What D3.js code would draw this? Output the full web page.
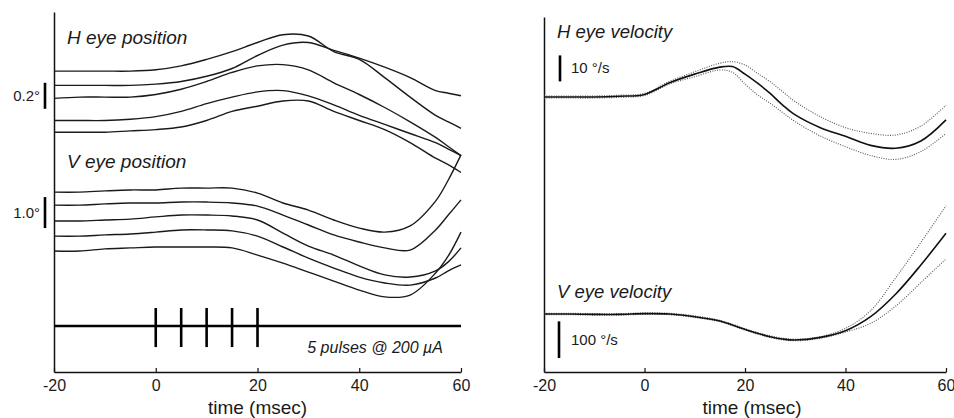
<!DOCTYPE html>
<html><head><meta charset="utf-8">
<script src="https://cdn.jsdelivr.net/npm/d3@7"></script>
<style>
body{margin:0;background:#fff;}
svg text{font-family:"Liberation Sans",Arial,Helvetica,sans-serif;fill:#1a1a1a;}
</style></head><body>
<svg id="chart" width="954" height="418"></svg>
<script>
// ---------- DATA ----------
const posTimes = [-20,-15,-10,-5,0,5,10,15,20,25,30,35,40,45,50,55,57.5,60];
// horizontal eye position traces (deg, arbitrary offset)
const hPos1 = [0.53,0.53,0.53,0.53,0.54,0.57,0.62,0.68,0.75,0.81,0.80,0.68,0.62,0.48,0.33,0.19,0.14,0.09];
const hPos2 = [0.42,0.42,0.42,0.42,0.43,0.45,0.49,0.55,0.65,0.73,0.75,0.69,0.63,0.56,0.48,0.38,0.36,0.34];
const hPos3 = [0.32,0.33,0.33,0.33,0.35,0.39,0.45,0.52,0.57,0.58,0.54,0.44,0.35,0.25,0.14,0.02,-0.05,-0.12];
const hPos4 = [0.15,0.15,0.15,0.16,0.18,0.22,0.28,0.33,0.37,0.38,0.34,0.27,0.19,0.12,0.05,-0.02,-0.07,-0.12];
const hPos5 = [0.06,0.06,0.06,0.07,0.08,0.10,0.15,0.22,0.26,0.30,0.30,0.22,0.15,0.08,-0.02,-0.14,-0.19,-0.25];
// vertical eye position traces (deg, arbitrary offset)
const vPos1 = [3.48,3.48,3.52,3.55,3.55,3.61,3.61,3.61,3.45,3.13,2.90,2.58,2.32,2.19,2.39,3.19,3.87,4.68];
const vPos2 = [3.06,3.06,3.10,3.13,3.13,3.16,3.16,3.13,3.03,2.74,2.42,2.10,1.87,1.68,1.61,2.26,2.74,3.23];
const vPos3 = [2.55,2.55,2.58,2.61,2.68,2.74,2.74,2.71,2.58,2.16,1.74,1.45,1.10,0.81,0.74,0.94,1.23,1.68];
const vPos4 = [2.06,2.06,2.10,2.13,2.19,2.26,2.26,2.23,2.06,1.71,1.35,1.03,0.74,0.55,0.48,0.71,0.94,1.13];
const vPos5 = [1.58,1.58,1.65,1.68,1.71,1.71,1.71,1.68,1.45,1.19,0.90,0.61,0.32,0.10,0.16,0.87,1.42,2.19];
// stimulation pulses (msec)
const pulseTimes = [0,5,10,15,20];

const velTimes = [-20,-15,-10,-5,0,5,10,15,17.5,20,22.5,25,27.5,30,35,40,45,50,55,60];
// horizontal eye velocity (deg/s): mean and bounds
const hVelMean  = [0,0,0,0.3,1.0,5.5,8.8,11.5,11.7,8.8,5.3,1.4,-3.1,-6.9,-11.8,-15.1,-18.6,-19.7,-16.9,-8.8];
const hVelUpper = [0.4,0.4,0.4,0.7,1.4,6.0,9.7,13.0,13.6,12.3,9.1,5.9,2.0,-1.8,-7.6,-11.8,-14.0,-14.6,-11.2,-3.1];
const hVelLower = [-0.4,-0.4,-0.4,-0.1,0.6,5.0,7.8,10.4,9.5,5.0,0.8,-2.4,-6.0,-9.5,-15.0,-19.1,-22.5,-24.0,-21.0,-14.0];
// vertical eye velocity (deg/s): mean and bounds
const vVelMean  = [0,0,-1,-1,1,0,-7.3,-19.1,-30,-41.8,-52.7,-61.8,-68.2,-70.9,-63.6,-45.5,-7.3,54.5,133.6,220];
const vVelUpper = [2,2,1,1,3,2,-5,-17,-28,-40,-50.5,-59.5,-66,-68.5,-61.8,-39,9,99,195,295];
const vVelLower = [-2,-2,-3,-3,-1,-2,-9.5,-21,-32,-44,-55,-64,-70.5,-73,-66.4,-49,-25.5,21.8,85.5,150];

const xTicks = [-20,0,20,40,60];
const hPosBar = [0.24,0.44], vPosBar = [2.32,3.32];
const hVelBar = [6,16], vVelBar = [-120,-20];

// ---------- DRAW ----------
const svg = d3.select("#chart");
const xL = d3.scaleLinear().domain([-20,60]).range([54,461]);
const xR = d3.scaleLinear().domain([-20,60]).range([544,946]);
const yH = d3.scaleLinear().domain([0,1]).range([140,10]);
const yV = d3.scaleLinear().domain([0,1]).range([300,269]);
const yHv = d3.scaleLinear().domain([0,10]).range([97,71]);
const yVv = d3.scaleLinear().domain([0,100]).range([314,277.3]);
const yS = d3.scaleLinear().domain([0,1]).range([326,308]);
const yAxL = d3.scaleLinear().domain([0,1]).range([372,12]);
const yAxR = d3.scaleLinear().domain([0,1]).range([372,17]);

function trace(x, y, times, vals){
  return d3.line().x((d,i)=>x(times[i])).y(d=>y(d)).curve(d3.curveCatmullRom)(vals);
}

// axes
function drawAxes(x, yAx, titleX){
  const gx = svg.append("g").attr("transform","translate(0,372)")
    .call(d3.axisBottom(x).tickValues(xTicks).tickSize(-4).tickSizeOuter(0).tickPadding(8).tickFormat(d=>String(d)));
  gx.select(".domain").attr("stroke","#111").attr("stroke-width",1.5);
  gx.selectAll(".tick line").attr("stroke","#111").attr("stroke-width",1.2);
  gx.selectAll(".tick text").attr("font-size",16).attr("fill","#1a1a1a").attr("font-family","Liberation Sans, Arial, sans-serif");
  const gy = svg.append("g").attr("transform",`translate(${x.range()[0]},0)`)
    .call(d3.axisLeft(yAx).tickValues([]).tickSizeOuter(0));
  gy.select(".domain").attr("stroke","#111").attr("stroke-width",1.5);
  svg.append("text").attr("x",titleX).attr("y",414).attr("text-anchor","middle")
    .attr("font-size",19).text("time (msec)");
}
drawAxes(xL, yAxL, 257.5);
drawAxes(xR, yAxR, 752);

// left: position traces
const posG = svg.append("g").attr("fill","none").attr("stroke","#1a1a1a").attr("stroke-width",1.4);
[hPos1,hPos2,hPos3,hPos4,hPos5].forEach(v=>posG.append("path").attr("d",trace(xL,yH,posTimes,v)));
[vPos1,vPos2,vPos3,vPos4,vPos5].forEach(v=>posG.append("path").attr("d",trace(xL,yV,posTimes,v)));

// stimulus line and pulses
svg.append("line").attr("x1",xL(-20)).attr("x2",xL(60)).attr("y1",yS(0)).attr("y2",yS(0))
  .attr("stroke","#000").attr("stroke-width",2.6);
svg.selectAll(".pulse").data(pulseTimes).join("line").attr("class","pulse")
  .attr("x1",d=>xL(d)).attr("x2",d=>xL(d)).attr("y1",yS(-1.17)).attr("y2",yS(1))
  .attr("stroke","#000").attr("stroke-width",2.6);
svg.append("text").attr("x",443).attr("y",353).attr("text-anchor","end")
  .attr("font-size",16).attr("font-style","italic").text("5 pulses @ 200 \u00B5A");

// scale bars
function bar(x, y, range){
  svg.append("line").attr("x1",x).attr("x2",x).attr("y1",y(range[0])).attr("y2",y(range[1]))
    .attr("stroke","#000").attr("stroke-width",2.6);
}
bar(45, yH, hPosBar); bar(45, yV, vPosBar);
svg.append("text").attr("x",40).attr("y",(yH(hPosBar[0])+yH(hPosBar[1]))/2+5).attr("text-anchor","end")
  .attr("font-size",15).text("0.2\u00B0");
svg.append("text").attr("x",40).attr("y",(yV(vPosBar[0])+yV(vPosBar[1]))/2+5).attr("text-anchor","end")
  .attr("font-size",15).text("1.0\u00B0");

svg.append("text").attr("x",67).attr("y",44).attr("font-size",19).attr("font-style","italic").text("H eye position");
svg.append("text").attr("x",67).attr("y",168).attr("font-size",19).attr("font-style","italic").text("V eye position");

// right: velocity traces
function velGroup(y, mean, up, lo){
  [up, lo].forEach(v=>svg.append("path").attr("d",trace(xR,y,velTimes,v))
    .attr("fill","none").attr("stroke","#555").attr("stroke-width",1.1).attr("stroke-dasharray","1,1.4"));
  svg.append("path").attr("d",trace(xR,y,velTimes,mean))
    .attr("fill","none").attr("stroke","#111").attr("stroke-width",1.6);
}
velGroup(yHv, hVelMean, hVelUpper, hVelLower);
velGroup(yVv, vVelMean, vVelUpper, vVelLower);

bar(560, yHv, hVelBar); bar(559, yVv, vVelBar);
svg.append("text").attr("x",571).attr("y",(yHv(hVelBar[0])+yHv(hVelBar[1]))/2+5).attr("font-size",15).text("10 \u00B0/s");
svg.append("text").attr("x",571).attr("y",(yVv(vVelBar[0])+yVv(vVelBar[1]))/2+5).attr("font-size",15).text("100 \u00B0/s");

svg.append("text").attr("x",557).attr("y",38).attr("font-size",18.5).attr("font-style","italic").text("H eye velocity");
svg.append("text").attr("x",557).attr("y",298).attr("font-size",18.5).attr("font-style","italic").text("V eye velocity");
</script>
</body></html>
